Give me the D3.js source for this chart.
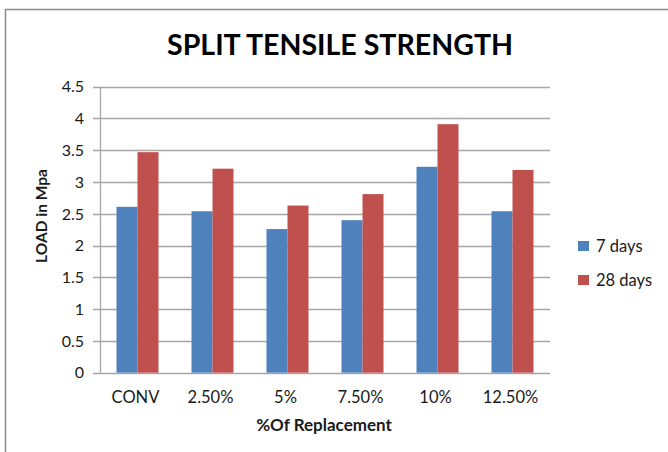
<!DOCTYPE html>
<html>
<head>
<meta charset="utf-8">
<script src="https://cdn.jsdelivr.net/npm/d3@7"></script>
<style>
  body { margin: 0; background: #fff; }
  svg { display: block; font-family: Lato, "Open Sans", sans-serif; }
</style>
</head>
<body>
<script>
// chart values
var categories = ["CONV", "2.50%", "5%", "7.50%", "10%", "12.50%"];
var seriesNames = ["7 days", "28 days"];
var days7 = [2.61, 2.54, 2.26, 2.40, 3.24, 2.54];
var days28 = [3.47, 3.21, 2.63, 2.81, 3.91, 3.19];
var yTicks = [0, 0.5, 1, 1.5, 2, 2.5, 3, 3.5, 4, 4.5];
var colors = ["#4F81BD", "#C0504D"];

var width = 668, height = 452;
var plotLeft = 100, plotRight = 550, plotTop = 86.7, plotBottom = 372.7;

var svg = d3.select("body").append("svg")
    .attr("width", width)
    .attr("height", height);

// outer chart frame
svg.append("rect")
    .attr("x", 5.5).attr("y", 9.5)
    .attr("width", 720).attr("height", 500)
    .attr("fill", "#fff")
    .attr("stroke", "#8c8c8c")
    .attr("stroke-width", 1.5);

var xScale = d3.scaleBand()
    .domain(categories)
    .range([plotLeft, plotRight])
    .paddingInner(0.44)
    .paddingOuter(0.22);

var xSub = d3.scaleBand()
    .domain(seriesNames)
    .range([0, xScale.bandwidth()]);

var yScale = d3.scaleLinear()
    .domain([0, 4.5])
    .range([plotBottom, plotTop]);

// gridlines
svg.append("g")
    .selectAll("line")
    .data(yTicks)
    .enter()
    .append("line")
    .attr("x1", plotLeft - 7)
    .attr("x2", plotRight)
    .attr("y1", function (d) { return Math.round(yScale(d)) + 0.5; })
    .attr("y2", function (d) { return Math.round(yScale(d)) + 0.5; })
    .attr("stroke", "#a6a6a6")
    .attr("stroke-width", 1.3);

// y axis line
svg.append("line")
    .attr("x1", plotLeft + 0.5).attr("x2", plotLeft + 0.5)
    .attr("y1", plotTop).attr("y2", plotBottom)
    .attr("stroke", "#a6a6a6")
    .attr("stroke-width", 1.3);

// y tick labels
svg.append("g")
    .selectAll("text")
    .data(yTicks)
    .enter()
    .append("text")
    .attr("x", 84)
    .attr("y", function (d) { return yScale(d); })
    .attr("dy", "0.36em")
    .attr("text-anchor", "end")
    .attr("font-size", 16)
    .attr("fill", "#1a1a1a")
    .text(function (d) { return d; });

// bars
var rows = categories.map(function (c, i) {
    return { cat: c, values: [days7[i], days28[i]] };
});

var groups = svg.append("g")
    .selectAll("g")
    .data(rows)
    .enter()
    .append("g")
    .attr("transform", function (d) { return "translate(" + xScale(d.cat) + ",0)"; });

groups.selectAll("rect")
    .data(function (d) { return d.values; })
    .enter()
    .append("rect")
    .attr("x", function (d, i) { return xSub(seriesNames[i]); })
    .attr("y", function (d) { return yScale(d); })
    .attr("width", xSub.bandwidth())
    .attr("height", function (d) { return plotBottom - yScale(d); })
    .attr("fill", function (d, i) { return colors[i]; });

// x tick labels
svg.append("g")
    .selectAll("text")
    .data(categories)
    .enter()
    .append("text")
    .attr("x", function (d) { return xScale(d) + xScale.bandwidth() / 2 - 2; })
    .attr("y", 403)
    .attr("text-anchor", "middle")
    .attr("font-size", 16.5)
    .attr("fill", "#1a1a1a")
    .text(function (d) { return d; });

// title
svg.append("text")
    .attr("x", 340)
    .attr("y", 55)
    .attr("text-anchor", "middle")
    .attr("font-size", 29)
    .attr("font-weight", "bold")
    .attr("textLength", 346)
    .attr("lengthAdjust", "spacingAndGlyphs")
    .text("SPLIT TENSILE STRENGTH");

// axis titles
svg.append("text")
    .attr("x", 324)
    .attr("y", 431)
    .attr("text-anchor", "middle")
    .attr("font-size", 17)
    .attr("font-weight", "bold")
    .attr("fill", "#1a1a1a")
    .text("%Of Replacement");

svg.append("text")
    .attr("transform", "translate(47,216) rotate(-90)")
    .attr("text-anchor", "middle")
    .attr("font-size", 15.5)
    .attr("font-weight", "bold")
    .attr("fill", "#1a1a1a")
    .text("LOAD in Mpa");

// legend
var legend = svg.append("g")
    .selectAll("g")
    .data(seriesNames)
    .enter()
    .append("g")
    .attr("transform", function (d, i) { return "translate(578," + (241 + i * 34) + ")"; });

legend.append("rect")
    .attr("width", 11).attr("height", 10)
    .attr("fill", function (d, i) { return colors[i]; });

legend.append("text")
    .attr("x", 18)
    .attr("y", 11)
    .attr("font-size", 16.5)
    .attr("fill", "#1a1a1a")
    .text(function (d) { return d; });
</script>
</body>
</html>
